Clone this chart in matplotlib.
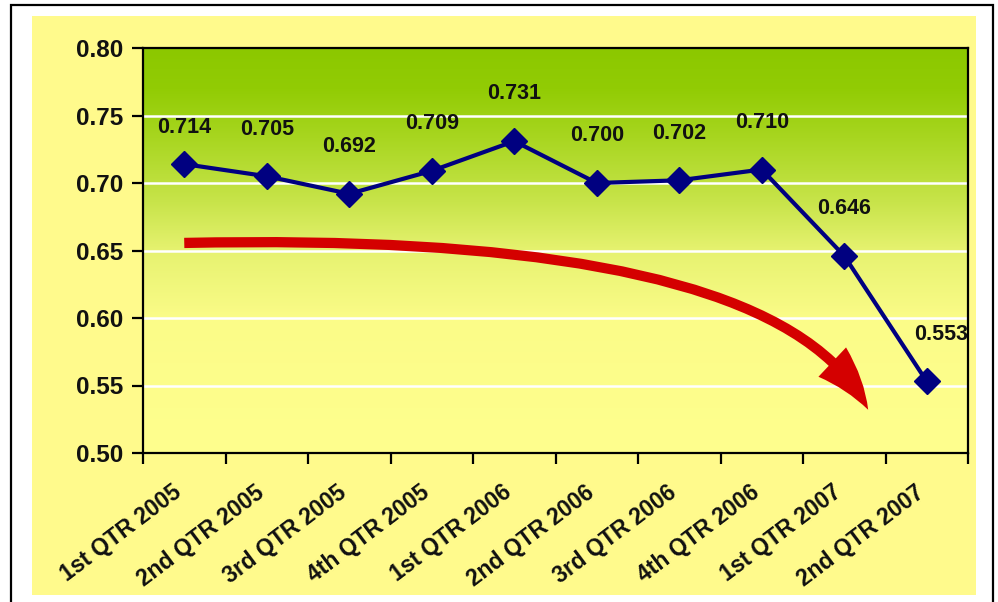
import numpy as np
import matplotlib
matplotlib.use("Agg")
import matplotlib.pyplot as plt
import matplotlib.transforms as mtransforms
from matplotlib.path import Path
from matplotlib.patches import FancyArrowPatch, Rectangle
from matplotlib.colors import LinearSegmentedColormap

plt.rcParams["font.family"] = ["Liberation Sans", "DejaVu Sans"]
plt.rcParams["font.weight"] = "bold"

# datos del grafico
quarters = ["1st QTR 2005", "2nd QTR 2005", "3rd QTR 2005", "4th QTR 2005",
            "1st QTR 2006", "2nd QTR 2006", "3rd QTR 2006", "4th QTR 2006",
            "1st QTR 2007", "2nd QTR 2007"]
values = [0.714, 0.705, 0.692, 0.709, 0.731, 0.700, 0.702, 0.710, 0.646, 0.553]
labels = ["0.714", "0.705", "0.692", "0.709", "0.731", "0.700", "0.702", "0.710", "0.646", "0.553"]
yticks = [0.50, 0.55, 0.60, 0.65, 0.70, 0.75, 0.80]

x = np.arange(len(values))

fig = plt.figure(figsize=(9.98, 6.02), dpi=100)
fig.patch.set_facecolor("white")

# marco negro y fondo amarillo
fig.patches.append(Rectangle((11/998, -0.02), 982/998, 1.02 - 5/602, transform=fig.transFigure,
                             fill=False, edgecolor="black", linewidth=1.6, zorder=-2))
fig.patches.append(Rectangle((32/998, 7/602), 944/998, 579/602, transform=fig.transFigure,
                             facecolor="#fffa8c", edgecolor="none", zorder=-1))

ax = fig.add_axes([143/998, 149/602, 825/998, 405/602])
ax.set_xlim(-0.5, len(values) - 0.5)
ax.set_ylim(0.50, 0.80)

# degradado verde -> amarillo
cmap = LinearSegmentedColormap.from_list("grad", [
    (0.0, "#ffff8e"), (0.33, "#fbfc88"), (0.50, "#e6f270"),
    (0.62, "#c8e44a"), (0.78, "#a8d620"), (0.90, "#92cc04"), (1.0, "#8cc800")])
grad = np.linspace(0, 1, 256).reshape(-1, 1)
ax.imshow(grad, cmap=cmap, origin="lower", aspect="auto",
          extent=[-0.5, len(values) - 0.5, 0.50, 0.80], zorder=0)

for yv in yticks[1:-1]:
    ax.axhline(yv, color="white", linewidth=1.8, zorder=1)

# flecha roja curva
arrow_path = Path([(0.0, 0.6556), (7.22, 0.665), (8.29, 0.532)],
                  [Path.MOVETO, Path.CURVE3, Path.CURVE3])
arrow = FancyArrowPatch(path=arrow_path, arrowstyle="simple,head_width=29,head_length=43,tail_width=7.4",
                        color="#d40000", linewidth=0, mutation_scale=1, zorder=2)
ax.add_patch(arrow)

ax.plot(x, values, color="#000080", linewidth=3, marker="D", markersize=13, zorder=3)

for xi, v, lab in zip(x, values, labels):
    dy = 26 if xi == 0 else 34
    dx = 10 if xi == len(values) - 1 else 0
    ax.annotate(lab, (xi, v), xytext=(dx, dy), textcoords="offset points",
                ha="center", va="center", fontsize=15.5, fontweight="bold",
                color="#111111", zorder=4)

ax.set_yticks(yticks)
ax.set_yticklabels([f"{t:.2f}" for t in yticks], fontsize=17.5, fontweight="bold",
                   color="#111111")
ax.set_xticks(x)
ax.set_xticklabels(quarters, rotation=37, ha="right", rotation_mode="anchor",
                   fontsize=16.5, fontweight="bold", color="#111111")
ax.set_xticks(np.arange(len(values) + 1) - 0.5, minor=True)
ax.tick_params(axis="x", which="major", length=0, pad=20)
ax.tick_params(axis="x", which="minor", length=8, width=1.6, direction="out")
ax.tick_params(axis="y", length=8, width=1.6, direction="out", pad=6)

shift = mtransforms.ScaledTranslation(-12/100, 0, fig.dpi_scale_trans)
for lbl in ax.get_xticklabels():
    lbl.set_transform(lbl.get_transform() + shift)

for sp in ax.spines.values():
    sp.set_linewidth(1.6)
    sp.set_color("black")

fig.savefig("out.png", dpi=100)
